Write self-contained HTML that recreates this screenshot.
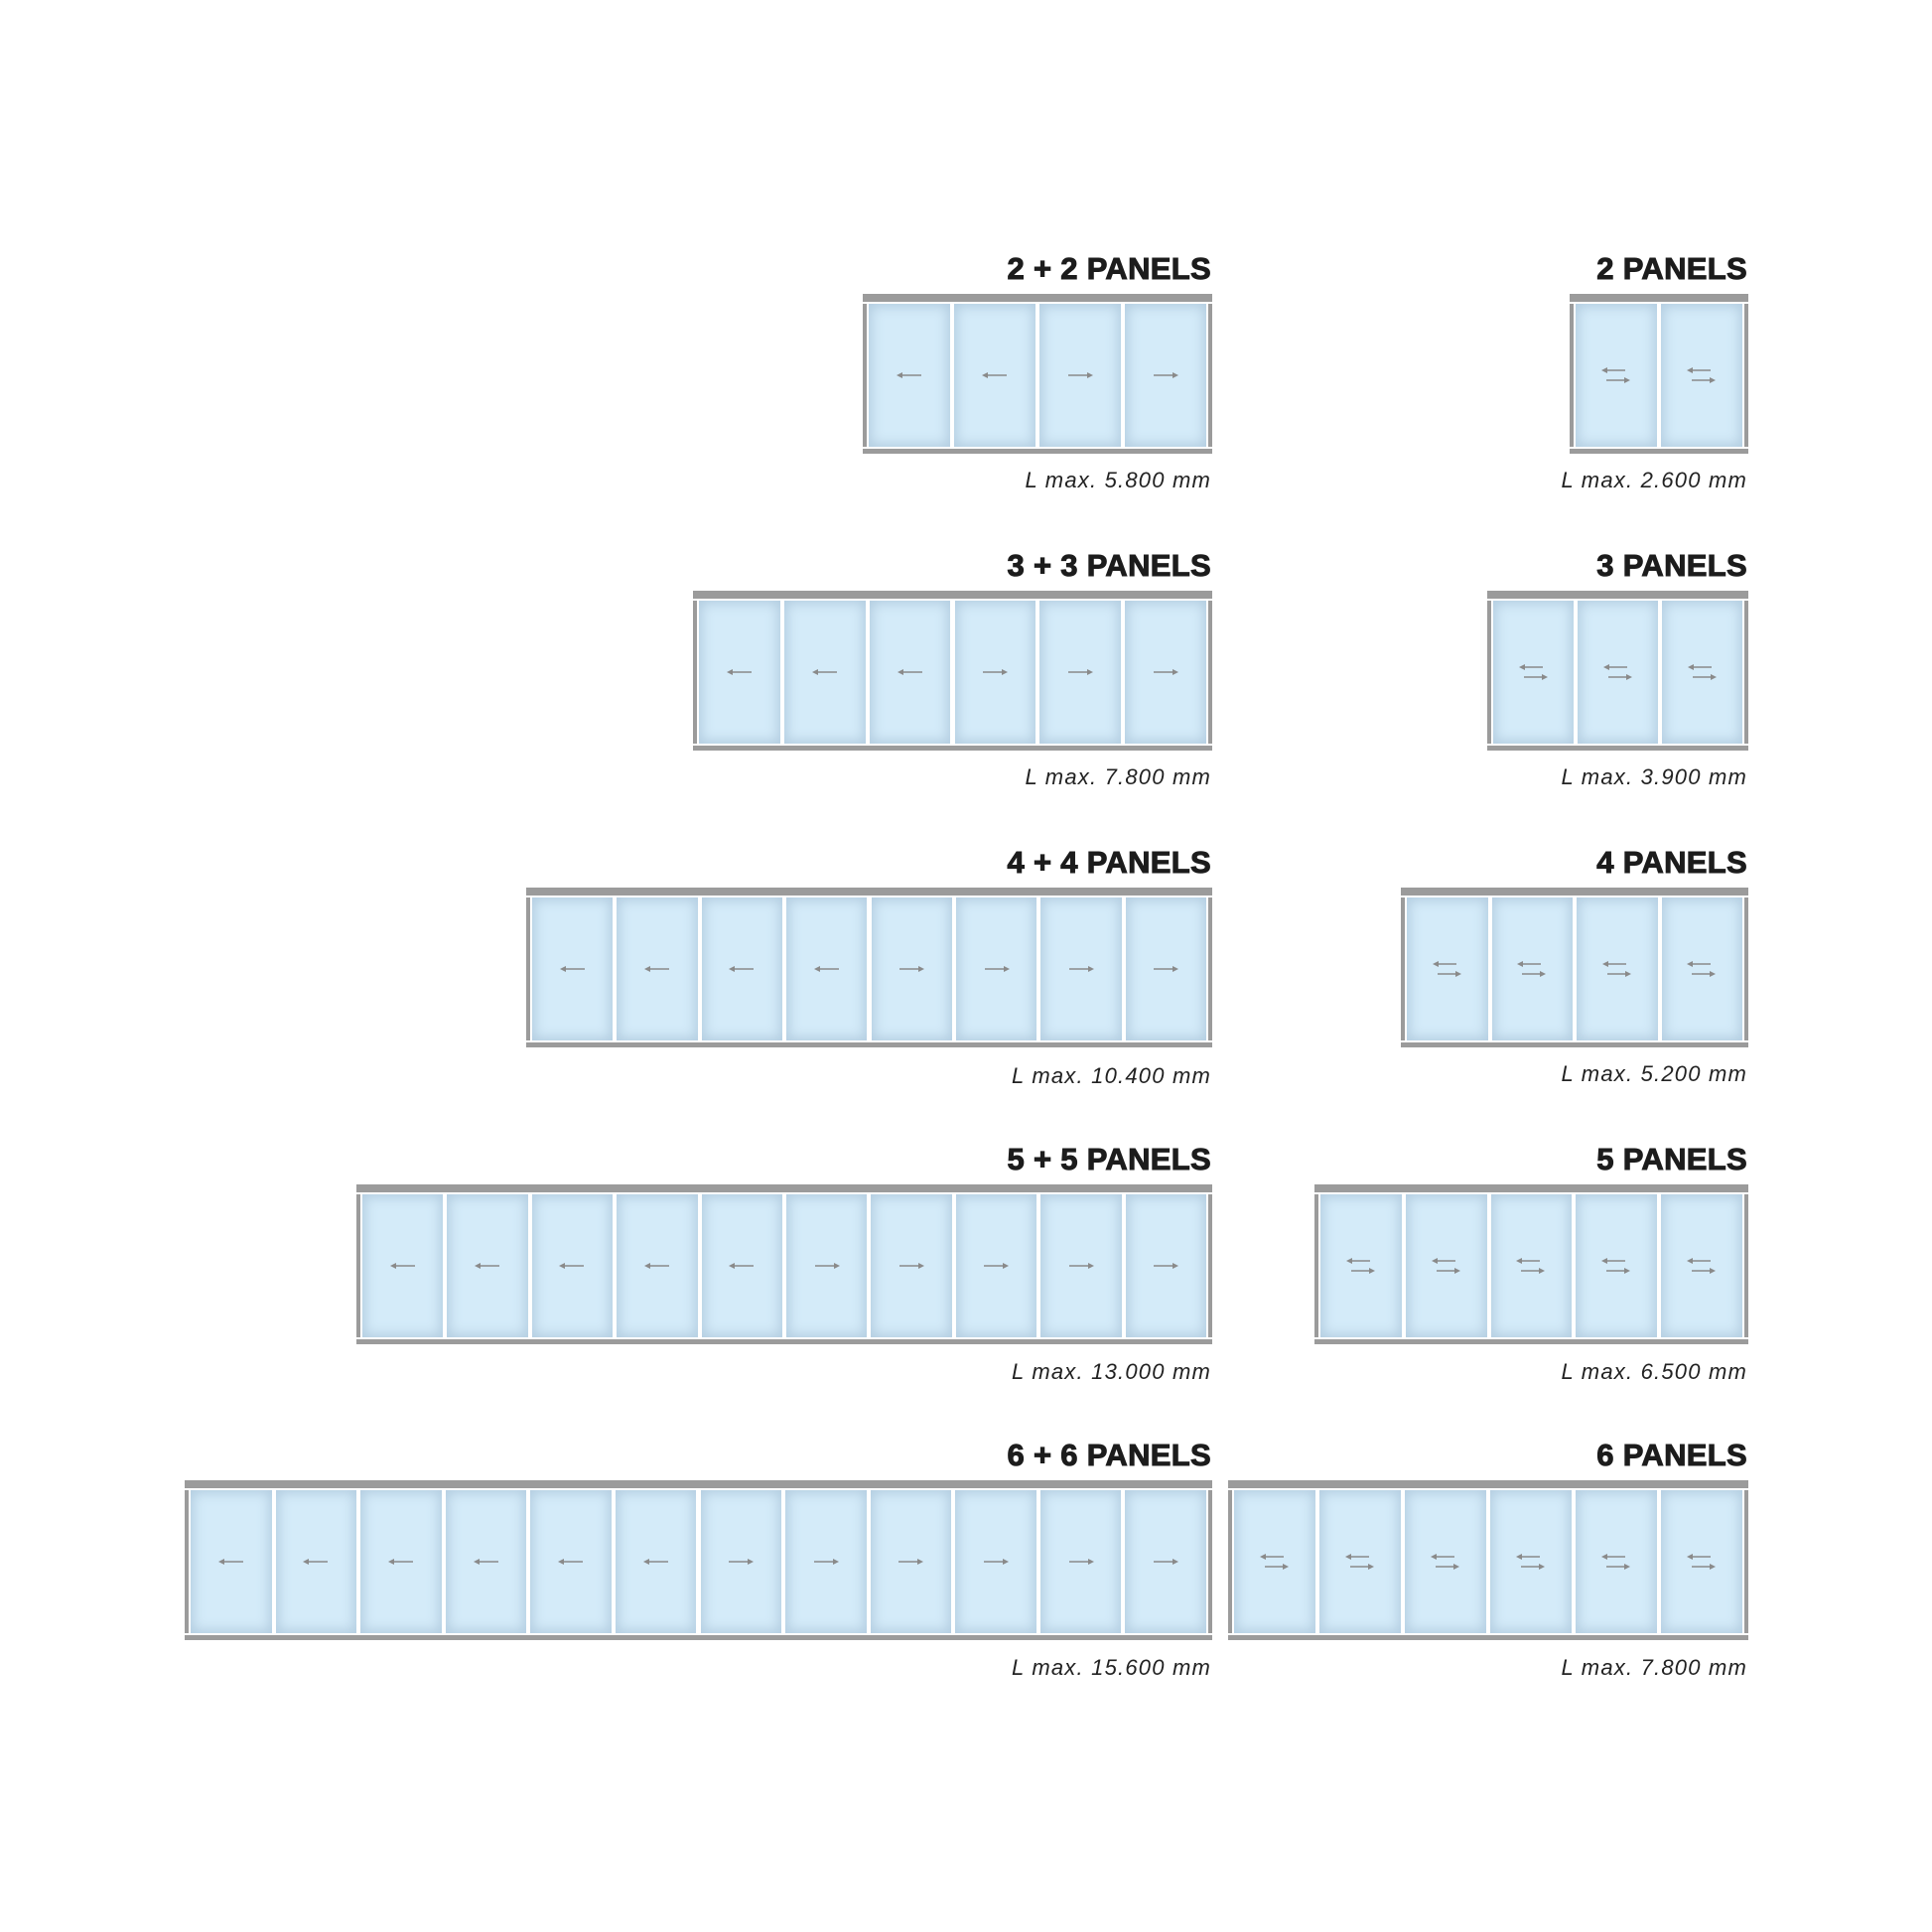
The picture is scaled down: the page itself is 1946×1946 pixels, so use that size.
<!DOCTYPE html>
<html><head><meta charset="utf-8">
<style>
html,body{margin:0;padding:0;background:#fff;}
body{width:1946px;height:1946px;position:relative;overflow:hidden;font-family:"Liberation Sans",sans-serif;}
.t{position:absolute;font-weight:bold;font-size:31px;color:#1c1c1c;text-align:right;white-space:nowrap;letter-spacing:0.3px;line-height:1;-webkit-text-stroke:1px #1c1c1c;}
.c{position:absolute;font-style:italic;font-size:22px;color:#222;text-align:right;white-space:nowrap;letter-spacing:1.2px;line-height:1;}
.bar{position:absolute;background:#9b9b9b;}
.p{position:absolute;background:#d4ebf9;box-shadow:inset 0 0 12px 3px #b3cde0;}
.p svg{position:absolute;left:50%;top:50%;transform:translate(-50%,-50%);}
</style></head><body>
<div id="root"></div>
<div class="t" style="right:726px;top:255px">2 + 2 PANELS</div>
<div class="c" style="right:726px;top:473px">L max. 5.800 mm</div>
<div class="t" style="right:186px;top:255px">2 PANELS</div>
<div class="c" style="right:186px;top:473px">L max. 2.600 mm</div>
<div class="t" style="right:726px;top:554px">3 + 3 PANELS</div>
<div class="c" style="right:726px;top:772px">L max. 7.800 mm</div>
<div class="t" style="right:186px;top:554px">3 PANELS</div>
<div class="c" style="right:186px;top:772px">L max. 3.900 mm</div>
<div class="t" style="right:726px;top:853px">4 + 4 PANELS</div>
<div class="c" style="right:726px;top:1073px">L max. 10.400 mm</div>
<div class="t" style="right:186px;top:853px">4 PANELS</div>
<div class="c" style="right:186px;top:1071px">L max. 5.200 mm</div>
<div class="t" style="right:726px;top:1152px">5 + 5 PANELS</div>
<div class="c" style="right:726px;top:1371px">L max. 13.000 mm</div>
<div class="t" style="right:186px;top:1152px">5 PANELS</div>
<div class="c" style="right:186px;top:1371px">L max. 6.500 mm</div>
<div class="t" style="right:726px;top:1450px">6 + 6 PANELS</div>
<div class="c" style="right:726px;top:1669px">L max. 15.600 mm</div>
<div class="t" style="right:186px;top:1450px">6 PANELS</div>
<div class="c" style="right:186px;top:1669px">L max. 7.800 mm</div>
<script>
var root=document.getElementById('root');
var L='<svg width="26" height="8"><line x1="3" y1="4" x2="25" y2="4" stroke="#8a8a8a" stroke-width="1.6"/><path d="M0,4 L6,1 L6,7 Z" fill="#8a8a8a"/></svg>';
var R='<svg width="26" height="8"><line x1="1" y1="4" x2="23" y2="4" stroke="#8a8a8a" stroke-width="1.6"/><path d="M26,4 L20,1 L20,7 Z" fill="#8a8a8a"/></svg>';
var D='<svg width="30" height="18"><line x1="3" y1="4" x2="24" y2="4" stroke="#8a8a8a" stroke-width="1.6"/><path d="M0,4 L6,1 L6,7 Z" fill="#8a8a8a"/><line x1="5" y1="14" x2="26" y2="14" stroke="#8a8a8a" stroke-width="1.6"/><path d="M29,14 L23,11 L23,17 Z" fill="#8a8a8a"/></svg>';
function frame(x0,x1,y,n,type){
  var h='';
  var W=x1-x0;
  h+='<div class="bar" style="left:'+x0+'px;top:'+y+'px;width:'+W+'px;height:8px"></div>';
  h+='<div class="bar" style="left:'+x0+'px;top:'+(y+156)+'px;width:'+W+'px;height:5px"></div>';
  h+='<div class="bar" style="left:'+x0+'px;top:'+(y+10)+'px;width:4px;height:144px"></div>';
  h+='<div class="bar" style="left:'+(x1-4)+'px;top:'+(y+10)+'px;width:4px;height:144px"></div>';
  var pw=(W-12-(n-1)*4)/n;
  for(var i=0;i<n;i++){
    var px=x0+6+i*(pw+4);
    var g=type=='d'?D:(i<n/2?L:R);
    h+='<div class="p" style="left:'+px.toFixed(1)+'px;top:'+(y+10)+'px;width:'+pw.toFixed(1)+'px;height:144px">'+g+'</div>';
  }
  root.insertAdjacentHTML('beforeend',h);
}
var ys=[296,595,894,1193,1491];
var lefts=[869,698,530,359,186];
var rlefts=[1581,1498,1411,1324,1237];
for(var r=0;r<5;r++){
  frame(lefts[r],1221,ys[r],(r+2)*2,'s');
  frame(rlefts[r],1761,ys[r],r+2,'d');
}
</script>
</body></html>
